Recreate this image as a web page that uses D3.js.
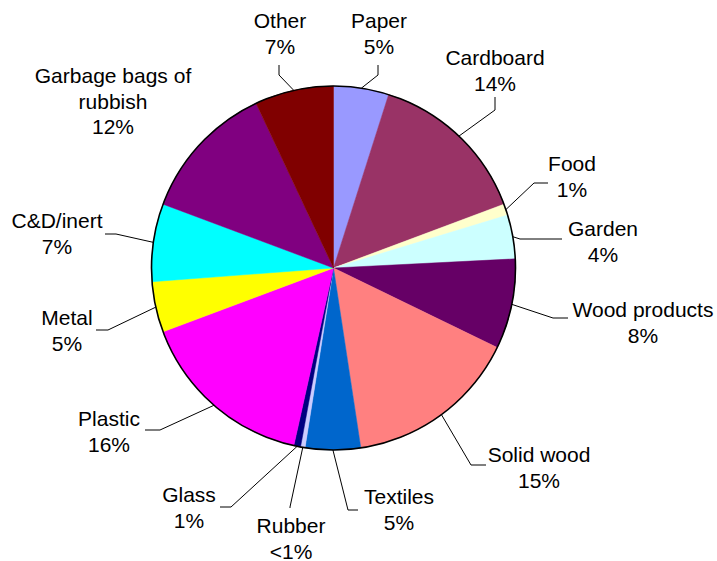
<!DOCTYPE html>
<html>
<head>
<meta charset="utf-8">
<script src="https://cdn.jsdelivr.net/npm/d3@7"></script>
<style>
  html, body { margin: 0; padding: 0; background: #ffffff; }
  svg { display: block; }
  text { font-family: "Liberation Sans", Arial, sans-serif; font-size: 21px; fill: #000; }
</style>
</head>
<body>
<svg id="chart" width="717" height="561"></svg>
<script>
// Waste composition (share of total, %), clockwise from 12 o'clock
const categories = ["Paper", "Cardboard", "Food", "Garden", "Wood products", "Solid wood",
  "Textiles", "Rubber", "Glass", "Plastic", "Metal", "C&D/inert", "Garbage bags of rubbish", "Other"];
const shares = [4.9, 14.4, 1.0, 3.9, 8.0, 15.4, 4.9, 0.4, 0.6, 15.8, 4.5, 6.9, 12.3, 7.0];
const colors = ["#9999FF", "#993366", "#FFFFCC", "#CCFFFF", "#660066", "#FF8080",
  "#0066CC", "#CCCCFF", "#000080", "#FF00FF", "#FFFF00", "#00FFFF", "#800080", "#800000"];
// Label text lines (category names wrapped)
const nameLines = [["Paper"], ["Cardboard"], ["Food"], ["Garden"], ["Wood products"], ["Solid wood"],
  ["Textiles"], ["Rubber"], ["Glass"], ["Plastic"], ["Metal"], ["C&D/inert"], ["Garbage bags of", "rubbish"], ["Other"]];

// Label placement: centre x, first line y, and leader polyline from label to elbow
const labelLayout = [
  { x: 379, y: 20, leader: [[378, 65], [378, 75]] },
  { x: 495, y: 57, leader: [[495, 97], [495, 110]] },
  { x: 572, y: 163, leader: [[548, 183], [534, 183]] },
  { x: 603, y: 228, leader: [[562, 239], [520, 239]] },
  { x: 643, y: 309, leader: [[568, 318], [553, 318]] },
  { x: 539, y: 454, leader: [[486, 465], [471, 465]] },
  { x: 399, y: 496, leader: [[358, 510], [348, 510]] },
  { x: 291, y: 525, leader: [[290, 508], [290, 507]] },
  { x: 189, y: 494, leader: [[220, 507], [231, 507]] },
  { x: 109, y: 418, leader: [[145, 430], [160, 430]] },
  { x: 67, y: 317, leader: [[96, 330], [108, 330]] },
  { x: 57, y: 220, leader: [[105, 234], [116, 234]] },
  { x: 113, y: 75, leader: null },
  { x: 280, y: 20, leader: [[279, 65], [279, 75]] }
];

const cx = 333.5, cy = 268, radius = 182, lineGap = 25.5;

const svg = d3.select("#chart");
const data = categories.map((c, i) => ({ name: c, value: shares[i], color: colors[i], lines: nameLines[i], layout: labelLayout[i] }));

const pie = d3.pie().value(d => d.value).sort(null).startAngle(0).endAngle(2 * Math.PI);
const arcs = pie(data);
const arc = d3.arc().innerRadius(0).outerRadius(radius);

const g = svg.append("g").attr("transform", `translate(${cx},${cy})`);

g.selectAll("path.slice")
  .data(arcs)
  .join("path")
  .attr("class", "slice")
  .attr("d", arc)
  .attr("fill", d => d.data.color)
  .attr("stroke", d => d.data.color)
  .attr("stroke-width", 0.5);

// outer rim
g.append("circle")
  .attr("r", radius)
  .attr("fill", "none")
  .attr("stroke", "#000")
  .attr("stroke-width", 1.6);

const pctText = v => v < 0.5 ? "<1%" : Math.round(v) + "%";

// leader lines: label elbow -> slice mid-point on the rim
const lineGen = d3.line();
arcs.forEach(a => {
  const L = a.data.layout;
  if (!L.leader) return;
  const mid = (a.startAngle + a.endAngle) / 2;
  const edge = [cx + radius * Math.sin(mid), cy - radius * Math.cos(mid)];
  svg.append("path")
    .attr("d", lineGen([...L.leader, edge]))
    .attr("fill", "none")
    .attr("stroke", "#000")
    .attr("stroke-width", 1);
});

// labels
arcs.forEach(a => {
  const L = a.data.layout;
  const lines = [...a.data.lines, pctText(a.data.value)];
  const t = svg.append("text")
    .attr("text-anchor", "middle")
    .attr("dominant-baseline", "central");
  lines.forEach((s, i) => {
    t.append("tspan").attr("x", L.x).attr("y", L.y + i * lineGap).text(s);
  });
});
</script>
</body>
</html>
